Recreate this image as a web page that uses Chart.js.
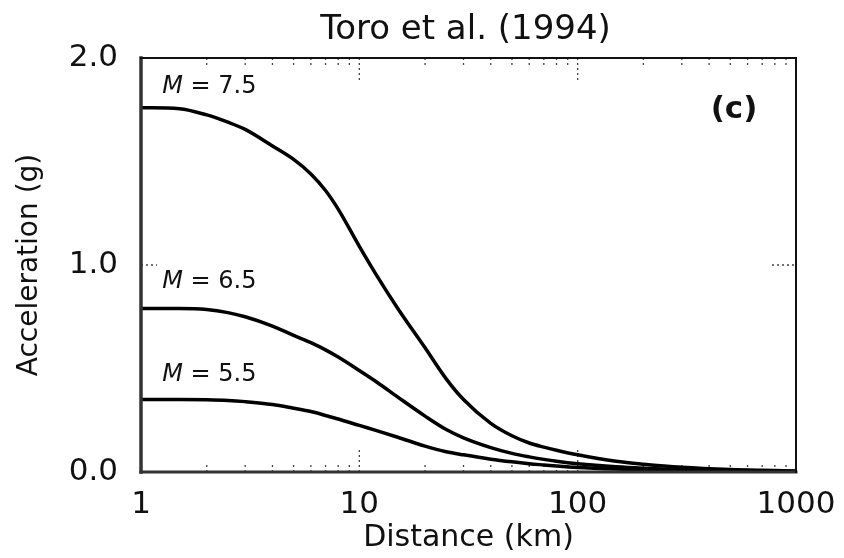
<!DOCTYPE html>
<html><head><meta charset="utf-8">
<script src="https://cdn.jsdelivr.net/npm/chart.js@4/dist/chart.umd.min.js"></script>
<style>html,body{margin:0;padding:0;background:#fff}#wrap{width:844px;height:558px;position:relative}</style>
</head><body><div id="wrap"><canvas id="c" width="844" height="558"></canvas></div>
<script>
const chartTitle = 'Toro et al. (1994)';
const panelLabel = '(c)';
const xAxisTitle = 'Distance (km)';
const yAxisTitle = 'Acceleration (g)';
const distances = [1, 1.5, 2, 2.5, 3, 4, 5, 6, 7, 8, 10, 12, 15, 20, 25, 30, 40, 50, 60, 70, 80, 100, 150, 200, 300, 500, 700, 1000];
const accM75 = [1.76, 1.755, 1.725, 1.69, 1.655, 1.575, 1.51, 1.44, 1.36, 1.27, 1.09, 0.95, 0.79, 0.60, 0.45, 0.35, 0.235, 0.175, 0.14, 0.12, 0.105, 0.083, 0.052, 0.038, 0.023, 0.012, 0.008, 0.005];
const accM65 = [0.79, 0.79, 0.785, 0.77, 0.75, 0.705, 0.66, 0.625, 0.59, 0.555, 0.49, 0.435, 0.362, 0.27, 0.205, 0.165, 0.118, 0.09, 0.073, 0.061, 0.052, 0.04, 0.025, 0.018, 0.011, 0.006, 0.004, 0.003];
const accM55 = [0.35, 0.35, 0.349, 0.346, 0.34, 0.326, 0.308, 0.292, 0.273, 0.256, 0.225, 0.20, 0.168, 0.125, 0.098, 0.083, 0.062, 0.049, 0.04, 0.034, 0.029, 0.022, 0.014, 0.01, 0.006, 0.003, 0.002, 0.001];
const magnitudes = ['7.5', '6.5', '5.5'];
const xTickValues = [1, 10, 100, 1000];
const yTickValues = [0, 1, 2];

const FONT = '"DejaVu Sans", "Liberation Sans", Arial, sans-serif';
const toPts = arr => distances.map((d, i) => ({x: d, y: arr[i]}));
const lineStyle = {borderColor: '#000', borderWidth: 3.5, pointRadius: 0, fill: false, cubicInterpolationMode: 'monotone'};

const decorPlugin = {
  id: 'decor',
  beforeDatasetsDraw(chart) {
    const {ctx, chartArea: a, scales: {x, y}} = chart;
    ctx.save();
    ctx.strokeStyle = '#444';
    ctx.lineWidth = 1.3;
    ctx.setLineDash([2, 3]);
    for (let dec = 1; dec < 1000; dec *= 10) {
      for (let m = 1; m < 10; m++) {
        const v = dec * m;
        if (v === 1) continue;
        const px = x.getPixelForValue(v);
        const len = (m === 1) ? 22 : 10;
        ctx.beginPath(); ctx.moveTo(px, a.bottom); ctx.lineTo(px, a.bottom - len); ctx.stroke();
        ctx.beginPath(); ctx.moveTo(px, a.top); ctx.lineTo(px, a.top + len); ctx.stroke();
      }
    }
    const py = y.getPixelForValue(1);
    ctx.beginPath(); ctx.moveTo(a.left, py); ctx.lineTo(a.left + 16, py); ctx.stroke();
    ctx.beginPath(); ctx.moveTo(a.right - 24, py); ctx.lineTo(a.right, py); ctx.stroke();
    ctx.restore();
  },
  afterDatasetsDraw(chart) {
    const {ctx, chartArea: a, scales: {x, y}} = chart;
    ctx.save();
    ctx.lineCap = 'square';
    ctx.strokeStyle = '#333'; ctx.lineWidth = 3.5;
    ctx.beginPath(); ctx.moveTo(a.left, a.top); ctx.lineTo(a.left, a.bottom); ctx.stroke();
    ctx.lineWidth = 3;
    ctx.beginPath(); ctx.moveTo(a.left, a.bottom); ctx.lineTo(a.right, a.bottom); ctx.stroke();
    ctx.strokeStyle = '#111'; ctx.lineWidth = 2;
    ctx.beginPath(); ctx.moveTo(a.left, a.top); ctx.lineTo(a.right, a.top); ctx.lineTo(a.right, a.bottom); ctx.stroke();

    ctx.fillStyle = '#111';
    ctx.font = '34px ' + FONT;
    ctx.textAlign = 'center'; ctx.textBaseline = 'middle';
    ctx.fillText(chartTitle, (a.left + a.right) / 2 - 3, 30);

    const labelY = [1.86, 0.92, 0.47];
    magnitudes.forEach((mag, i) => {
      const px = x.getPixelForValue(1.25);
      const py = y.getPixelForValue(labelY[i]);
      ctx.textAlign = 'left'; ctx.textBaseline = 'middle';
      ctx.font = 'italic 24px ' + FONT;
      ctx.fillText('M', px, py);
      const w = ctx.measureText('M ').width;
      ctx.font = '24px ' + FONT;
      ctx.fillText('= ' + mag, px + w, py);
    });

    ctx.font = 'bold 31px ' + FONT;
    ctx.textAlign = 'center'; ctx.textBaseline = 'middle';
    ctx.fillText(panelLabel, x.getPixelForValue(520), y.getPixelForValue(1.75));
    ctx.restore();
  }
};

new Chart(document.getElementById('c'), {
  type: 'line',
  data: {
    datasets: [
      Object.assign({label: 'M = ' + magnitudes[0], data: toPts(accM75)}, lineStyle),
      Object.assign({label: 'M = ' + magnitudes[1], data: toPts(accM65)}, lineStyle),
      Object.assign({label: 'M = ' + magnitudes[2], data: toPts(accM55)}, lineStyle)
    ]
  },
  options: {
    responsive: false,
    animation: false,
    layout: {padding: {top: 58, right: 48, bottom: 0, left: 0}},
    plugins: {legend: {display: false}, tooltip: {enabled: false}, title: {display: false}},
    scales: {
      x: {
        type: 'logarithmic', min: 1, max: 1000,
        afterBuildTicks: s => { s.ticks = xTickValues.map(v => ({value: v})); },
        afterFit: s => { s.height = 86; s.paddingRight = 0; s.paddingLeft = 0; },
        grid: {display: false, drawTicks: false},
        border: {display: false},
        ticks: {autoSkip: false, maxRotation: 0, color: '#111', font: {family: FONT, size: 31}, padding: 14,
                callback: v => String(v)},
        title: {display: true, text: xAxisTitle, color: '#111', font: {family: FONT, size: 30}, padding: {top: 0, bottom: 2}}
      },
      y: {
        min: 0, max: 2,
        afterBuildTicks: s => { s.ticks = yTickValues.map(v => ({value: v})); },
        afterFit: s => { s.width = 141; s.paddingTop = 0; s.paddingBottom = 0; },
        grid: {display: false, drawTicks: false},
        border: {display: false},
        ticks: {color: '#111', font: {family: FONT, size: 31}, padding: 23, callback: v => Number(v).toFixed(1)},
        title: {display: true, text: yAxisTitle, color: '#111', font: {family: FONT, size: 28}, padding: {top: 13, bottom: 0}}
      }
    }
  },
  plugins: [decorPlugin]
});
</script></body></html>
